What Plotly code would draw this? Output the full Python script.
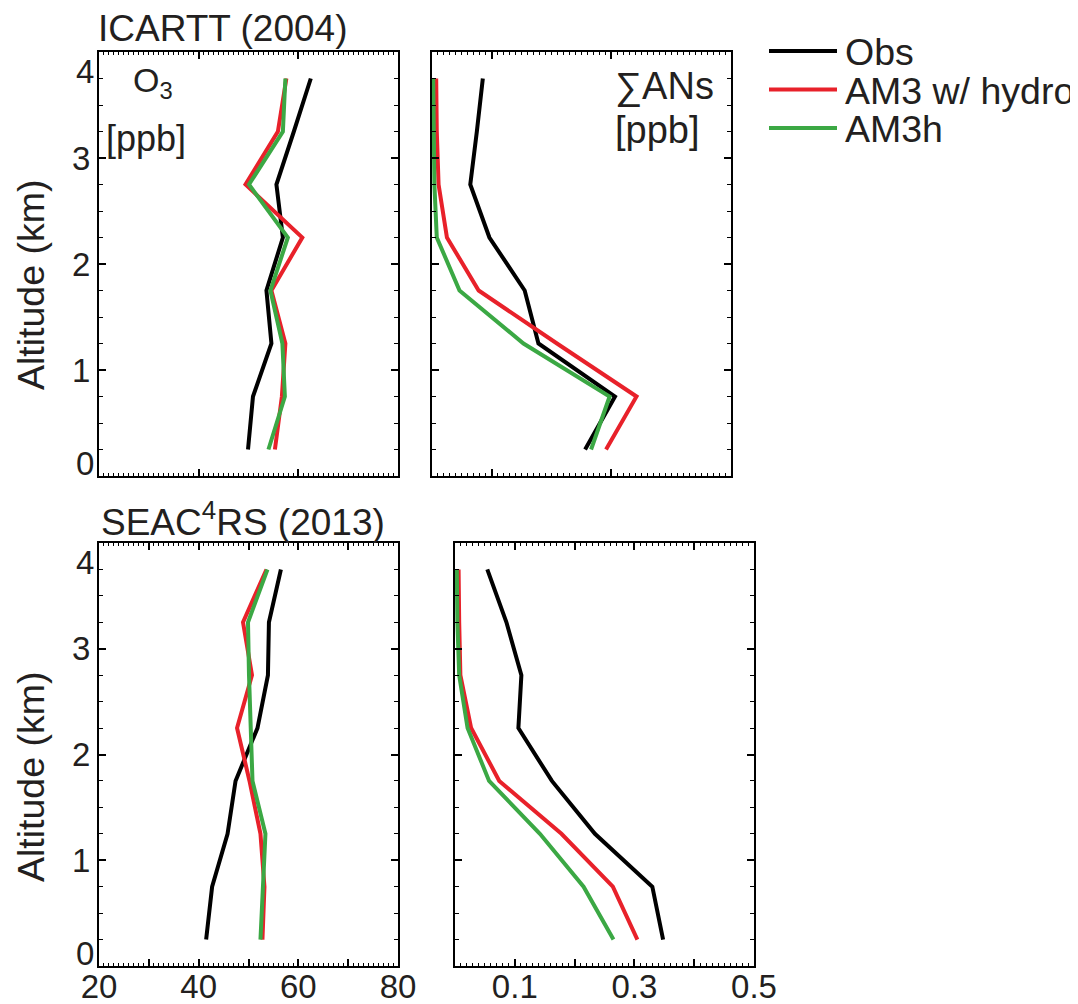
import plotly.graph_objects as go

# altitude bins (km)
ALT = [0.25, 0.75, 1.25, 1.75, 2.25, 2.75, 3.25, 3.75]

# ICARTT (2004)
ICARTT_O3_OBS = [49.9, 50.9, 54.6, 53.6, 56.9, 55.6, 59.1, 62.5]
ICARTT_O3_HYDRO = [55.3, 56.7, 57.4, 54.6, 60.8, 49.4, 55.9, 57.6]
ICARTT_O3_AM3H = [54.0, 57.3, 56.8, 54.4, 57.9, 50.1, 56.9, 57.4]
ICARTT_AN_OBS = [0.256, 0.306, 0.178, 0.155, 0.096, 0.064, 0.075, 0.085]
ICARTT_AN_HYDRO = [0.291, 0.342, 0.209, 0.078, 0.025, 0.011, 0.008, 0.007]
ICARTT_AN_AM3H = [0.266, 0.297, 0.153, 0.046, 0.008, 0.004, 0.003, 0.002]

# SEAC4RS (2013)
SEAC_O3_OBS = [41.5, 42.7, 45.8, 47.4, 51.8, 53.9, 54.1, 56.5]
SEAC_O3_HYDRO = [52.8, 53.2, 52.4, 50.2, 47.7, 50.7, 48.9, 53.6]
SEAC_O3_AM3H = [52.4, 52.9, 53.4, 50.8, 50.4, 50.1, 49.9, 53.8]
SEAC_AN_OBS = [0.348, 0.330, 0.234, 0.162, 0.106, 0.111, 0.086, 0.054]
SEAC_AN_HYDRO = [0.305, 0.264, 0.178, 0.074, 0.027, 0.009, 0.007, 0.006]
SEAC_AN_AM3H = [0.265, 0.215, 0.142, 0.057, 0.021, 0.007, 0.004, 0.003]

SERIES = ["Obs", "AM3 w/ hydro", "AM3h"]
COLORS = ["#000000", "#E8212A", "#3BA844"]

O3_TICKS = [20, 30, 40, 50, 60, 70, 80]
O3_LABELS = ["20", "", "40", "", "60", "", "80"]
AN_TICKS = [0.0, 0.1, 0.2, 0.3, 0.4, 0.5]
AN_LABELS = ["", "0.1", "", "0.3", "", "0.5"]
ALT_TICKS = [0, 1, 2, 3, 4]
ALT_LABELS = ["", "1", "2", "3", ""]
# the end labels sit a little inside the frame, as in the original
EDGE_POS = [0.12, 3.82]
EDGE_LABELS = ["0", "4"]

# the page body has an 8px margin; pixel positions below are page pixels
OFF = 8
W, H = 1078 - OFF, 1004 - OFF
TXT = "#231F20"
FONT = "Liberation Sans, Arial, sans-serif"
TICK_SIZE = 33


def px_x(x):
    return (x - OFF) / W


def px_y(y):
    return 1 - (y - OFF) / H


panels = [
    # (x axis id, y axis id, series values)
    ("x", "y", [ICARTT_O3_OBS, ICARTT_O3_HYDRO, ICARTT_O3_AM3H]),
    ("x2", "y2", [ICARTT_AN_OBS, ICARTT_AN_HYDRO, ICARTT_AN_AM3H]),
    ("x3", "y3", [SEAC_O3_OBS, SEAC_O3_HYDRO, SEAC_O3_AM3H]),
    ("x4", "y4", [SEAC_AN_OBS, SEAC_AN_HYDRO, SEAC_AN_AM3H]),
]

fig = go.Figure()
for xa, ya, vals in panels:
    for name, color, v in zip(SERIES, COLORS, vals):
        fig.add_trace(go.Scatter(
            x=v, y=ALT, xaxis=xa, yaxis=ya, mode="lines",
            line=dict(color=color, width=4), name=name, showlegend=False,
        ))


def xax(domain, anchor, rng, tickvals, ticktext, minor, labels):
    return dict(
        domain=domain, anchor=anchor, range=rng, automargin=False,
        tickmode="array", tickvals=tickvals, ticktext=ticktext,
        showticklabels=labels, ticks="inside", ticklen=7, tickwidth=1.5,
        tickcolor="black", showline=True, linecolor="black", linewidth=2,
        mirror="ticks", showgrid=False, zeroline=False,
        minor=dict(ticks="inside", ticklen=3, tickwidth=1.2, tickcolor="black",
                   dtick=minor, showgrid=False),
        tickfont=dict(family=FONT, size=TICK_SIZE, color=TXT),
        ticklabelstandoff=-10,
    )


def yax(domain, anchor, labels):
    return dict(
        domain=domain, anchor=anchor, range=[0, 4], automargin=False,
        tickmode="array", tickvals=ALT_TICKS, ticktext=ALT_LABELS,
        showticklabels=labels, ticks="inside", ticklen=7, tickwidth=1.5,
        tickcolor="black", showline=True, linecolor="black", linewidth=2,
        mirror="ticks", showgrid=False, zeroline=False,
        minor=dict(ticks="inside", ticklen=4, tickwidth=1.2, tickcolor="black",
                   dtick=0.25, showgrid=False),
        tickfont=dict(family=FONT, size=TICK_SIZE, color=TXT),
        ticklabelstandoff=0,
    )


top = [px_y(476), px_y(52)]
bot = [px_y(966), px_y(543)]
left = [px_x(99), px_x(398)]
right_top = [px_x(432), px_x(731)]
right_bot = [px_x(455), px_x(754)]

fig.update_layout(
    width=W, height=H,
    margin=dict(l=0, r=0, t=0, b=0, autoexpand=False),
    paper_bgcolor="white", plot_bgcolor="white",
    showlegend=False,
    font=dict(family=FONT, color=TXT),
    xaxis=xax(left, "y", [20, 80], O3_TICKS, O3_LABELS, 1, False),
    yaxis=yax(top, "x", True),
    xaxis2=xax(right_top, "y2", [0, 0.5], AN_TICKS, AN_LABELS, 0.01, False),
    yaxis2=yax(top, "x2", False),
    xaxis3=xax(left, "y3", [20, 80], O3_TICKS, O3_LABELS, 1, True),
    yaxis3=yax(bot, "x3", True),
    xaxis4=xax(right_bot, "y4", [0, 0.5], AN_TICKS, AN_LABELS, 0.01, True),
    yaxis4=yax(bot, "x4", False),
)

# end labels of the altitude axes, placed on the altitude scale
for xa, ya in [("x", "y"), ("x3", "y3")]:
    for pos, txt in zip(EDGE_POS, EDGE_LABELS):
        fig.add_annotation(
            text=txt, xref=f"{xa} domain", x=0, yref=ya, y=pos,
            xanchor="right", yanchor="middle", xshift=-3, showarrow=False,
            font=dict(family=FONT, size=TICK_SIZE, color=TXT),
        )


def label(text, x, y, size, xanchor="left", angle=0):
    fig.add_annotation(
        text=text, x=px_x(x), y=px_y(y), xref="paper", yref="paper",
        xanchor=xanchor, yanchor="middle", showarrow=False, textangle=angle,
        font=dict(family=FONT, size=size, color=TXT),
    )


label("ICARTT (2004)", 96, 28, 37)
label("SEAC<sup>4</sup>RS (2013)", 99, 519, 37)
label("Altitude (km)", 31, 285, 37.5, "center", -90)
label("Altitude (km)", 31, 777, 37.5, "center", -90)
label("O<sub>3</sub>", 131, 82, 34)
label("[ppb]", 104, 139, 36)
label("∑ANs", 613, 87, 38)
label("[ppb]", 613, 130, 38)

# legend
for i, (name, color) in enumerate(zip(SERIES, COLORS)):
    yy = 51 + 38.5 * i
    fig.add_shape(type="line", xref="paper", yref="paper",
                  x0=px_x(769), x1=px_x(837), y0=px_y(yy), y1=px_y(yy),
                  line=dict(color=color, width=4))
    label(name, 843, yy + 1, 37.5)

fig.write_html("out.html")
